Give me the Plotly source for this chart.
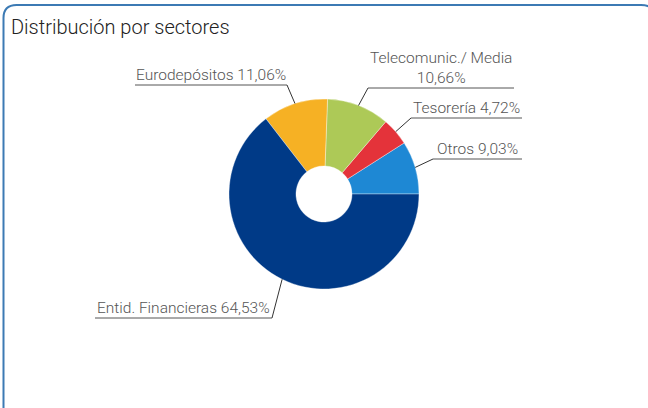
import math
import plotly.graph_objects as go

# ---- data ----
sectors = ["Otros", "Tesorería", "Telecomunic./ Media", "Eurodepósitos", "Entid. Financieras"]
shares = [9.03, 4.72, 10.66, 11.06, 64.53]
label_texts = ["Otros 9,03%", "Tesorería 4,72%", "Telecomunic./ Media<br>10,66%",
               "Eurodepósitos 11,06%", "Entid. Financieras 64,53%"]
colors = ["#1e88d4", "#e4333a", "#adc957", "#f6b124", "#003a87"]
title_text = "Distribución por sectores"

W, H = 648, 408
CX, CY, R = 324, 194, 95  # pixel geometry of the donut


def px(x):
    return x / W


def py(y):
    return 1 - y / H


total = sum(shares)
# plotly places the first counterclockwise slice ending at `rotation`; start Otros at 3 o'clock
rot = 90 - shares[0] / total * 360

fig = go.Figure()
fig.add_trace(go.Pie(
    labels=sectors, values=shares, sort=False, direction="counterclockwise",
    rotation=rot, hole=0.295, textinfo="none", hoverinfo="label+percent",
    marker=dict(colors=colors, line=dict(color="rgba(255,255,255,0.6)", width=0.6)),
    domain=dict(x=[px(CX - R), px(CX + R)], y=[py(CY + R), py(CY - R)]),
    showlegend=False,
))

# label layout: (underline y, x_left, x_right, leader side)
label_layout = [
    (159, 433, 522, "left"),
    (118, 411, 522, "left"),
    (88, 368, 514, "left"),
    (85, 135, 287, "right"),
    (318, 95, 272, "right"),
]

font = dict(family="Roboto", size=15.5, color="#555555", weight=300)
shapes = []
annotations = []
cum = 0.0
for i, v in enumerate(shares):
    mid = (cum + v / 2) / total * 2 * math.pi
    cum += v
    ex = CX + R * math.cos(mid)
    ey = CY - R * math.sin(mid)
    uy, xl, xr, side = label_layout[i]
    ax = xl if side == "left" else xr
    shapes.append(dict(type="line", xref="paper", yref="paper",
                       x0=px(xl), x1=px(xr), y0=py(uy), y1=py(uy),
                       line=dict(color="#555555", width=1)))
    shapes.append(dict(type="line", xref="paper", yref="paper",
                       x0=px(ax), x1=px(ex), y0=py(uy), y1=py(ey),
                       line=dict(color="#333333", width=1)))
    annotations.append(dict(
        text=label_texts[i], xref="paper", yref="paper",
        x=px((xl + xr) / 2), y=py(uy + 1), xanchor="center", yanchor="bottom",
        showarrow=False, font=font, align="center"))

annotations.append(dict(text=title_text, xref="paper", yref="paper",
                        x=px(9), y=py(27.5), xanchor="left", yanchor="middle",
                        showarrow=False,
                        font=dict(family="Roboto", size=20, color="#222222", weight=300)))

# rounded frame
def P(x, y):
    return f"{px(x)},{py(y)}"

frame = (f"M {P(3.5, 420)} L {P(3.5, 18)} Q {P(3.5, 5)} {P(16.5, 5)} "
         f"L {P(641, 5)} Q {P(655, 5)} {P(655, 19)} L {P(655, 420)}")
shapes.append(dict(type="path", xref="paper", yref="paper", path=frame,
                   line=dict(color="#3c7ab4", width=2)))

fig.update_layout(
    width=W, height=H, margin=dict(l=0, r=0, t=0, b=0),
    paper_bgcolor="white", plot_bgcolor="white",
    shapes=shapes, annotations=annotations,
)
fig.write_html("out.html", config={"displayModeBar": False},
               post_script="document.body.style.margin='0';document.body.style.overflow='hidden';")
